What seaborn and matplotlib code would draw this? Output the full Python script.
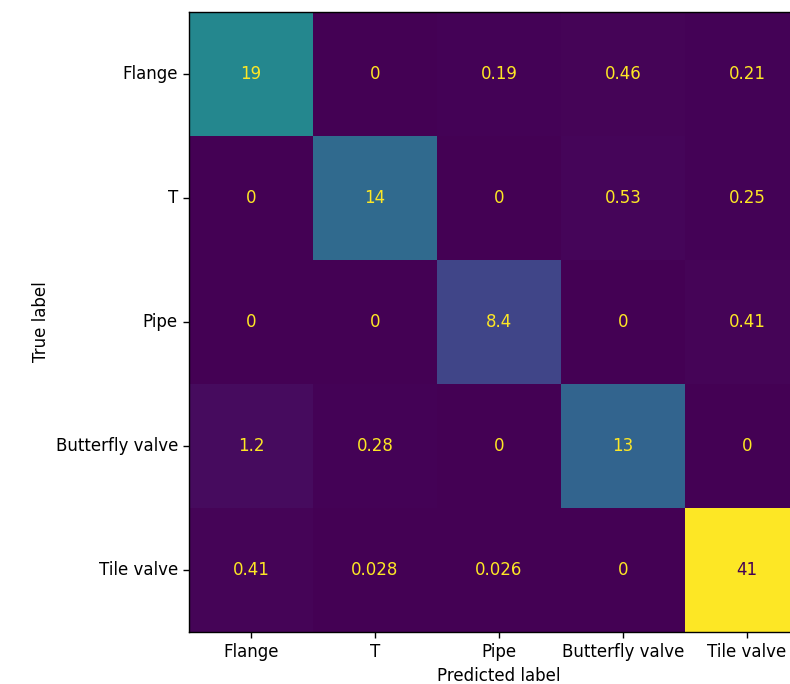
import matplotlib
matplotlib.use("Agg")
import matplotlib.pyplot as plt
import seaborn as sns
import pandas as pd

labels = ["Flange", "T", "Pipe", "Butterfly valve", "Tile valve"]
row_flange = [19, 0, 0.19, 0.46, 0.21]
row_t = [0, 14, 0, 0.53, 0.25]
row_pipe = [0, 0, 8.4, 0, 0.41]
row_butterfly = [1.2, 0.28, 0, 13, 0]
row_tile = [0.41, 0.028, 0.026, 0, 41]

cm = pd.DataFrame([row_flange, row_t, row_pipe, row_butterfly, row_tile],
                  index=labels, columns=labels)

fig = plt.figure(figsize=(7.9, 6.84), dpi=100)
ax = fig.add_axes([189 / 790, 52 / 684, 620 / 790, 620 / 684])

sns.heatmap(cm, cmap="viridis", annot=True, fmt=".2g", cbar=False, ax=ax,
            annot_kws={"fontsize": 12})

# sklearn-style text colours: light text on dark cells, dark on bright
cmap = plt.get_cmap("viridis")
vmin, vmax = cm.values.min(), cm.values.max()
thresh = (vmin + vmax) / 2
flat = cm.values.ravel()
for txt, v in zip(ax.texts, flat):
    txt.set_color(cmap(0.0) if v >= thresh else cmap(1.0))

for s in ax.spines.values():
    s.set_visible(True)
    s.set_color("black")
    s.set_linewidth(1.0)

ax.tick_params(axis="both", length=4.5, width=1.0, labelsize=12)
ax.set_yticklabels(labels, rotation=0)
ax.set_xticklabels(labels, rotation=0)
ax.set_xlabel("Predicted label", fontsize=12)
ax.set_ylabel("True label", fontsize=12)

fig.savefig("out.png", dpi=100)
